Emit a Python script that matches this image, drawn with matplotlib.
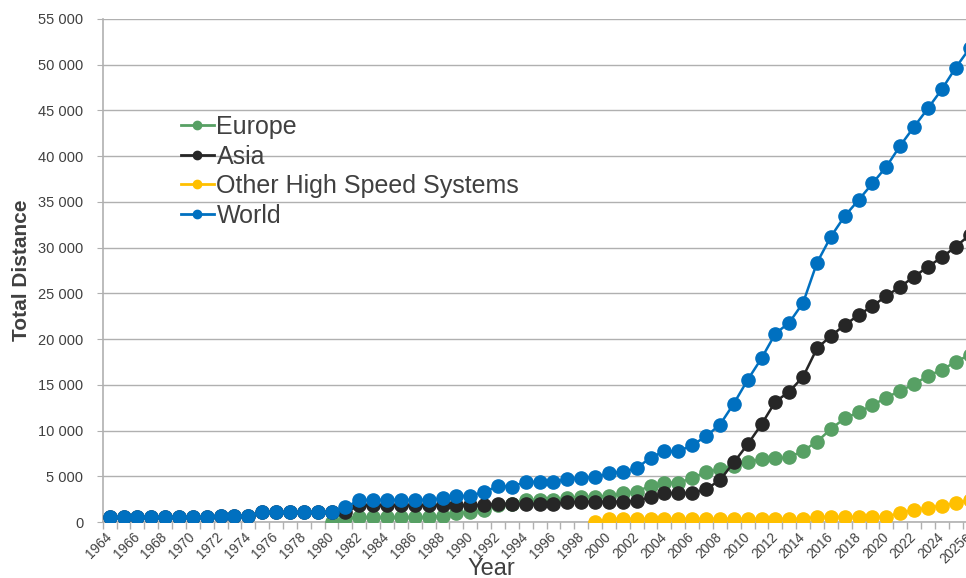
import numpy as np
import matplotlib
matplotlib.use("Agg")
import matplotlib.pyplot as plt
from matplotlib.lines import Line2D
from matplotlib.ticker import FuncFormatter, FixedLocator

plt.rcParams["font.family"] = ["Liberation Sans", "DejaVu Sans"]

years = [str(y) for y in range(1964, 2026)] + ["2025e"]
nan = np.nan

world = ([515] * 8 + [676] * 3 + [1069] * 6 + [1600, 2400] + [2420] * 5 +
         [2570, 2840, 2840, 3320, 3900, 3880, 4380, 4400, 4400, 4670, 4830, 4920,
          5320, 5500, 5870, 7050, 7730, 7730, 8400, 9370, 10640, 12940, 15540,
          17900, 20600, 21800, 23980, 28350, 31200, 33460, 35210, 37030, 38850,
          41150, 43220, 45230, 47310, 49680, 51790])
asia = ([515] * 8 + [676] * 3 + [1069] * 6 + [1070] + [1830] * 9 + [1850] +
        [1970] * 5 + [2150, 2220, 2220, 2220, 2220, 2330, 2700, 3170, 3170, 3170,
                      3570, 4590, 6510, 8490, 10680, 13160, 14250, 15890, 18990,
                      20340, 21540, 22630, 23620, 24710, 25730, 26820, 27920,
                      28940, 30100, 31380])
europe = ([nan] * 16 + [0, 420, 510] + [530] * 5 +
          [620, 950, 1040, 1280, 1900, 1950, 2420, 2420, 2420, 2600, 2770, 2770,
           2840, 3140, 3320, 3970, 4300, 4300, 4780, 5500, 5760, 6150, 6600, 6850,
           6960, 7070, 7800, 8780, 10170, 11340, 12000, 12790, 13600, 14360,
           15050, 16000, 16620, 17530, 18260])
other = ([nan] * 35 + [0] + [350] * 15 + [560] * 6 +
         [1020, 1310, 1560, 1790, 2040, 2400])

series = [("Europe", europe, "#57a064"), ("Asia", asia, "#262626"),
          ("Other High Speed Systems", other, "#ffc000"), ("World", world, "#0070c0")]

W, H = 966, 578
AW = 63 * 13.87
fig = plt.figure(figsize=(W / 100, H / 100), dpi=100)
ax = fig.add_axes([102.7 / W, 1 - 522 / H, AW / W, 503 / H])

x = np.arange(len(years))
for name, vals, col in series:
    ax.plot(x, np.array(vals, dtype=float), "-o", color=col, lw=1.8, ms=9.5, zorder=3)

ax.set_xlim(-0.5, len(years) - 0.5)
ax.set_ylim(0, 55000)
ax.yaxis.set_major_locator(FixedLocator(np.arange(0, 55001, 5000)))
ax.yaxis.set_major_formatter(FuncFormatter(lambda v, p: f"{int(v):,}".replace(",", " ")))
ax.grid(axis="y", color="#b0b0b0", lw=1.0, zorder=0)
ax.set_axisbelow(True)

ax.set_xticks(x[::2])
ax.set_xticklabels(years[::2], rotation=45, ha="right", va="center", rotation_mode="anchor",
                   fontsize=9.8, color="#404040")
ax.set_xticks(np.arange(-0.5, len(years), 1), minor=True)
ax.tick_params(axis="x", which="major", length=0, pad=9)
ax.tick_params(axis="x", which="minor", length=5, color="#b0b0b0", width=1)
ax.tick_params(axis="y", length=4, color="#b0b0b0", labelsize=10.5, labelcolor="#404040", pad=10)

for s in ["top", "right"]:
    ax.spines[s].set_visible(False)
for s in ["left", "bottom"]:
    ax.spines[s].set_color("#b0b0b0")
    ax.spines[s].set_linewidth(1.2)

ax.set_ylabel("Total Distance", fontsize=15, fontweight="bold", color="#404040")
ax.yaxis.set_label_coords((31 - 102.7) / AW, 0.5)
ax.set_xlabel("Year", fontsize=17, color="#404040")
ax.xaxis.set_label_coords((491 - 102.7) / AW, (522 - 558) / 503)

handles = [Line2D([], [], color=c, marker="o", lw=2.0, ms=6) for _, _, c in series]
fig.legend(handles, [n for n, _, _ in series], loc="upper left",
           bbox_to_anchor=(181 / W, 1 - 115 / H), frameon=False, fontsize=18,
           handlelength=1.3, handletextpad=0.12, labelspacing=0.22, borderpad=0,
           borderaxespad=0, labelcolor="#404040")

fig.savefig("out.png", dpi=100)
